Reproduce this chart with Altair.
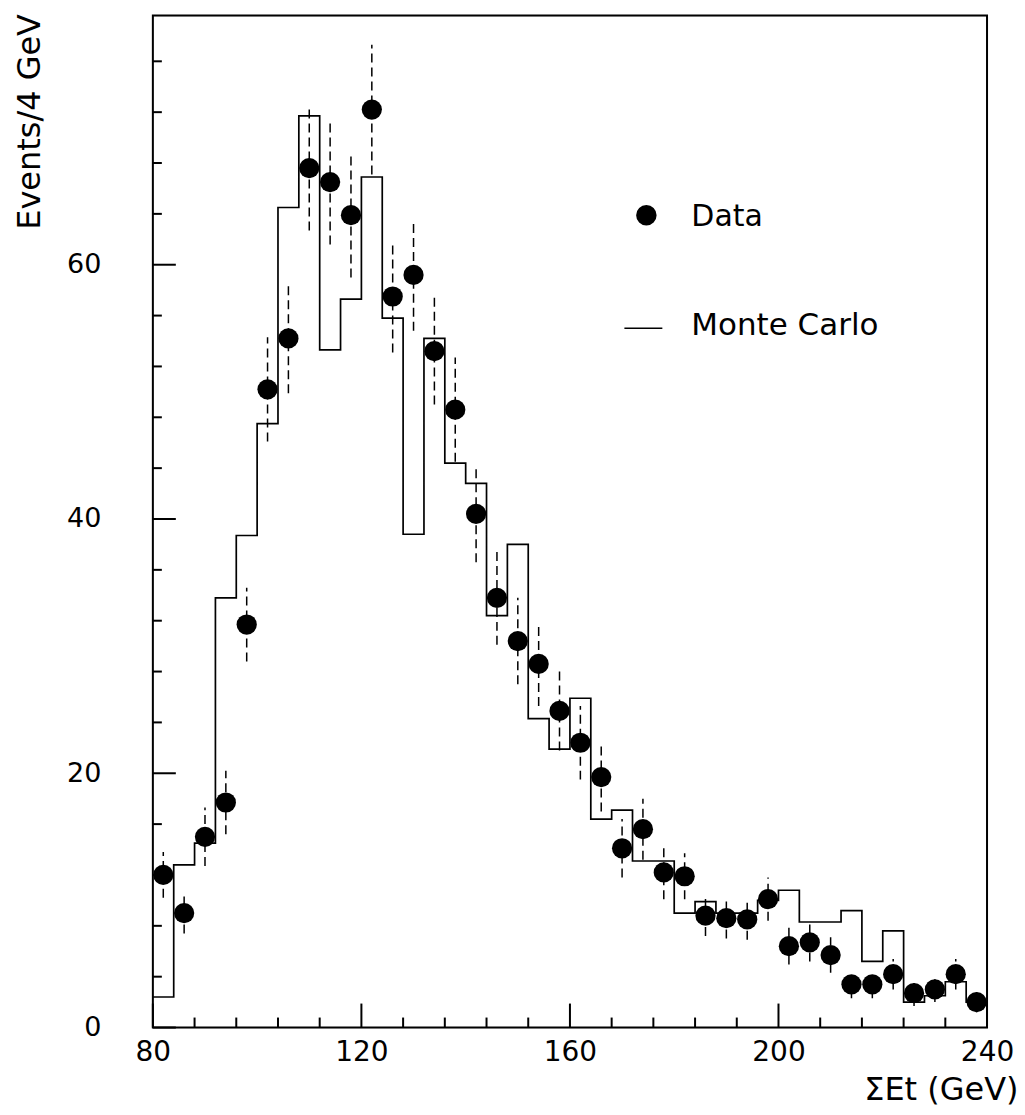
import altair as alt
import pandas as pd

# ---- data ----
BIN_WIDTH = 4
X_MIN, X_MAX = 80, 240
Y_MIN, Y_MAX = 0, 79.6

# data points (bin centres 82 ... 238)
DATA_X = [82, 86, 90, 94, 98, 102, 106, 110, 114, 118,
          122, 126, 130, 134, 138, 142, 146, 150, 154, 158,
          162, 166, 170, 174, 178, 182, 186, 190, 194, 198,
          202, 206, 210, 214, 218, 222, 226, 230, 234, 238]
DATA_Y = [12.0, 9.0, 15.0, 17.7, 31.7, 50.2, 54.2, 67.6, 66.5, 63.9,
          72.2, 57.5, 59.2, 53.2, 48.6, 40.4, 33.8, 30.4, 28.6, 24.9,
          22.4, 19.7, 14.1, 15.6, 12.2, 11.9, 8.8, 8.6, 8.5, 10.1,
          6.4, 6.7, 5.7, 3.4, 3.4, 4.2, 2.7, 3.0, 4.2, 2.0]
DATA_ERR = [1.8, 1.6, 2.3, 2.5, 2.9, 4.1, 4.3, 4.9, 4.9, 4.9,
            5.1, 4.4, 4.4, 4.2, 4.1, 3.8, 3.7, 3.4, 3.3, 3.1,
            2.9, 2.7, 2.3, 2.4, 2.1, 1.8, 1.6, 1.6, 1.6, 1.7,
            1.45, 1.5, 1.4, 1.1, 1.1, 1.2, 1.0, 1.0, 1.2, 0.8]

# Monte Carlo histogram, one value per 4 GeV bin from 80 to 240
MC_Y = [2.4, 12.8, 14.5, 33.8, 38.7, 47.5, 64.5, 71.7, 53.3, 57.3,
        66.9, 55.8, 38.8, 54.2, 44.4, 42.8, 32.4, 38.0, 24.3, 21.9,
        25.9, 16.4, 17.1, 13.1, 13.1, 9.0, 9.9, 9.0, 9.0, 10.0,
        10.8, 8.3, 8.3, 9.2, 5.2, 7.6, 2.0, 2.5, 3.6, 2.0]

X_LABELS = [80, 120, 160, 200, 240]
Y_LABELS = [0, 20, 40, 60]
X_MINOR_TICKS = [88, 96, 104, 112, 128, 136, 144, 152, 168, 176, 184, 192, 208, 216, 224, 232]
Y_MINOR_TICKS = [4, 8, 12, 16, 24, 28, 32, 36, 44, 48, 52, 56, 64, 68, 72, 76]

LEGEND_LABELS = ["Data", "Monte Carlo"]

# ---- layout ----
W, H = 835, 1013
FONT = "DejaVu Sans"

# ---- tables ----
pts = pd.DataFrame({"x": DATA_X, "y": DATA_Y, "err": DATA_ERR})
pts["lo"] = pts["y"] - pts["err"]
pts["hi"] = pts["y"] + pts["err"]

edges = [X_MIN + BIN_WIDTH * i for i in range(len(MC_Y))] + [X_MAX]
mc = pd.DataFrame({"x": edges, "y": MC_Y + [MC_Y[-1]]})

xs = alt.Scale(domain=[X_MIN, X_MAX], nice=False, zero=False)
ys = alt.Scale(domain=[Y_MIN, Y_MAX], nice=False, zero=False)

x_axis = alt.Axis(values=X_LABELS, ticks=False, domain=False, grid=False,
                  labelFont=FONT, labelFontSize=28, labelColor="black",
                  labelPadding=11, labelFlush=False,
                  title="ΣEt (GeV)", titleFont=FONT, titleFontSize=32,
                  titleFontWeight="normal", titleColor="black",
                  titleAlign="right", titleAnchor="end", titleBaseline="middle",
                  titleX=866, titleY=62)
y_axis = alt.Axis(values=Y_LABELS, ticks=False, domain=False, grid=False,
                  labelFont=FONT, labelFontSize=27, labelColor="black",
                  labelPadding=52, labelFlush=False,
                  title="Events/4 GeV", titleFont=FONT, titleFontSize=32,
                  titleFontWeight="normal", titleColor="black",
                  titleAngle=270, titleAlign="right", titleBaseline="middle",
                  titleX=-123, titleY=-2)

base_x = alt.X("x:Q", scale=xs, axis=x_axis)
base_y = alt.Y("y:Q", scale=ys, axis=y_axis)

hist = alt.Chart(mc).mark_line(interpolate="step-after", color="black",
                               strokeWidth=1.7).encode(x=base_x, y=base_y)

errs = alt.Chart(pts).mark_rule(color="black", strokeWidth=1.5,
                                strokeDash=[9, 5]).encode(
    x=alt.X("x:Q", scale=xs), y=alt.Y("lo:Q", scale=ys), y2="hi:Q")

dots = alt.Chart(pts).mark_point(filled=True, shape="circle", color="black",
                                 size=410, opacity=1).encode(
    x=alt.X("x:Q", scale=xs), y=alt.Y("y:Q", scale=ys))

# inward ticks
xmaj = alt.Chart(pd.DataFrame({"t": X_LABELS})).mark_rule(color="black", strokeWidth=2).encode(
    x=alt.X("t:Q", scale=xs), y=alt.value(H), y2=alt.value(H - 24))
xmin = alt.Chart(pd.DataFrame({"t": X_MINOR_TICKS})).mark_rule(color="black", strokeWidth=2).encode(
    x=alt.X("t:Q", scale=xs), y=alt.value(H), y2=alt.value(H - 10))
ymaj = alt.Chart(pd.DataFrame({"t": Y_LABELS})).mark_rule(color="black", strokeWidth=2).encode(
    y=alt.Y("t:Q", scale=ys), x=alt.value(0), x2=alt.value(23))
ymin = alt.Chart(pd.DataFrame({"t": Y_MINOR_TICKS})).mark_rule(color="black", strokeWidth=2).encode(
    y=alt.Y("t:Q", scale=ys), x=alt.value(0), x2=alt.value(9))

# frame around the plot area
frame = alt.Chart(pd.DataFrame({"f": [0]})).mark_rect(
    fill=None, fillOpacity=0, stroke="black", strokeWidth=2).encode(
    x=alt.value(0), x2=alt.value(W), y=alt.value(0), y2=alt.value(H))

# legend (drawn in the plot area)
leg_df = pd.DataFrame({"label": LEGEND_LABELS})
leg_dot = alt.Chart(leg_df).transform_filter("datum.label == 'Data'").mark_point(
    filled=True, shape="circle", color="black", size=420, opacity=1).encode(
    x=alt.value(494), y=alt.value(200))
leg_line = alt.Chart(leg_df).transform_filter("datum.label == 'Monte Carlo'").mark_rule(
    color="black", strokeWidth=1.6).encode(
    x=alt.value(472), x2=alt.value(510), y=alt.value(313))
leg_txt1 = alt.Chart(leg_df).transform_filter("datum.label == 'Data'").mark_text(
    font=FONT, fontSize=30, align="left", baseline="middle", color="black").encode(
    x=alt.value(539), y=alt.value(202), text="label:N")
leg_txt2 = alt.Chart(leg_df).transform_filter("datum.label == 'Monte Carlo'").mark_text(
    font=FONT, fontSize=31, align="left", baseline="middle", color="black").encode(
    x=alt.value(539), y=alt.value(311), text="label:N")

chart = alt.layer(frame, hist, errs, dots, xmaj, xmin, ymaj, ymin,
                  leg_dot, leg_line, leg_txt1, leg_txt2).properties(
    width=W, height=H,
    autosize=alt.AutoSizeParams(type="none"),
    padding={"left": 145, "top": 7, "right": 30, "bottom": 80},
).configure_view(stroke=None).configure(background="white")

chart.save("out.html", embed_options={"renderer": "svg", "actions": False})
